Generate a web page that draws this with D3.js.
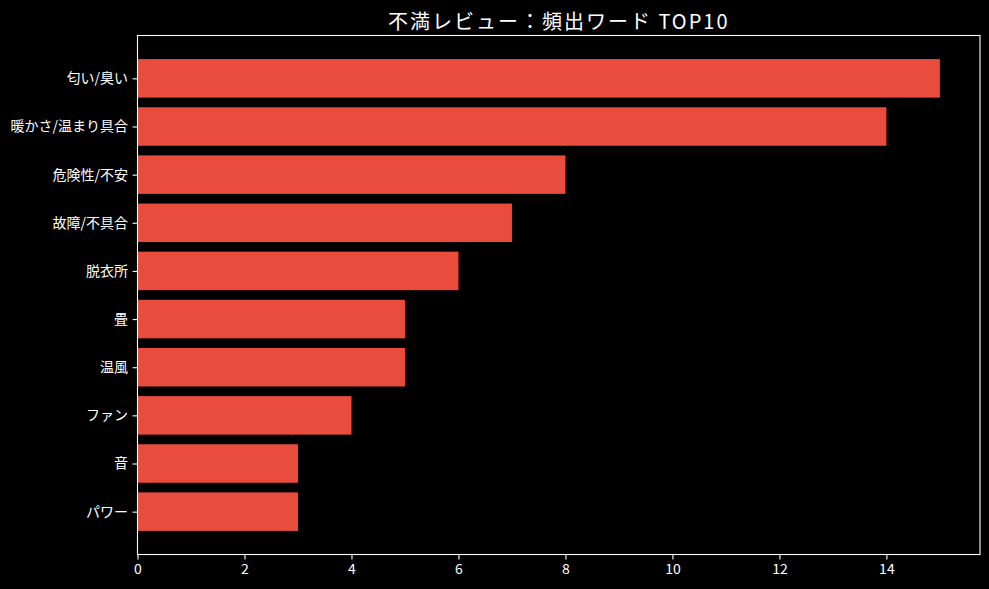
<!DOCTYPE html>
<html><head><meta charset="utf-8">
<script src="https://cdn.jsdelivr.net/npm/d3@7"></script>
<style>html,body{margin:0;padding:0;background:#000;}svg{display:block;}</style>
</head><body>
<svg id="c" width="989" height="589"></svg>
<script>
const categories = ["匂い/臭い","暖かさ/温まり具合","危険性/不安","故障/不具合","脱衣所","畳","温風","ファン","音","パワー"];
const counts = [15,14,8,7,6,5,5,4,3,3];
const xTicks = [0,2,4,6,8,10,12,14];
const title = "不満レビュー：頻出ワード TOP10";

const W=989,H=589;
const m={left:137.5,right:980,top:35.5,bottom:554.5};
const font = "'Noto Sans CJK JP','DejaVu Sans',sans-serif";
const svg=d3.select("#c");
svg.append("rect").attr("width",W).attr("height",H).attr("fill","#000");

const xMax = d3.max(counts)*1.05;
const x=d3.scaleLinear().domain([0,xMax]).range([m.left,m.right]);
const n=categories.length;
const pad=(n-1+0.8)*0.05;
const y=d3.scaleLinear().domain([-0.4-pad,n-1+0.4+pad]).range([m.top,m.bottom]);
const bh = y(0.4)-y(-0.4);

svg.append("g").selectAll("rect").data(counts).join("rect")
  .attr("x",x(0)).attr("y",(d,i)=>y(i-0.4))
  .attr("width",d=>x(d)-x(0)).attr("height",bh)
  .attr("fill","#e74c3c");

// frame
svg.append("rect").attr("x",m.left).attr("y",m.top)
  .attr("width",m.right-m.left).attr("height",m.bottom-m.top)
  .attr("fill","none").attr("stroke","#fff").attr("stroke-width",1.1);

const xa=svg.append("g").attr("transform",`translate(0,${m.bottom})`)
  .call(d3.axisBottom(x).tickValues(xTicks).tickFormat(d3.format("d")).tickSize(4.9).tickPadding(4.5));
const ya=svg.append("g").attr("transform",`translate(${m.left},0)`)
  .call(d3.axisLeft(y).tickValues(d3.range(n)).tickFormat(i=>categories[i]).tickSize(4.9).tickPadding(4.5));
[xa,ya].forEach(a=>{
  a.select(".domain").remove();
  a.selectAll("line").attr("stroke","#fff").attr("stroke-width",1.1);
  a.selectAll("text").attr("fill","#fff").style("font-family",font).style("font-size","14px");
});

svg.append("text").attr("x",(m.left+m.right)/2).attr("y",28.5)
  .attr("text-anchor","middle").attr("fill","#fff")
  .style("font-family",font).style("font-size","20px").style("letter-spacing","2px").text(title);
</script>
</body></html>
